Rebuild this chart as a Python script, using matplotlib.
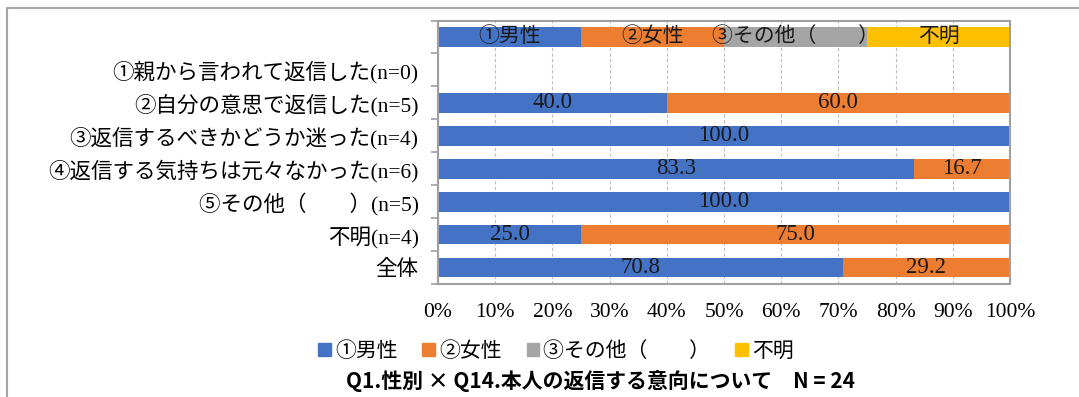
import matplotlib
matplotlib.use("Agg")
import matplotlib.pyplot as plt
from matplotlib.lines import Line2D
import numpy as np

plt.rcParams['font.family'] = ['Liberation Serif', 'Noto Sans CJK JP', 'DejaVu Sans']

categories = ["", "①親から言われて返信した(n=0)", "②自分の意思で返信した(n=5)",
              "③返信するべきかどうか迷った(n=4)", "④返信する気持ちは元々なかった(n=6)",
              "⑤その他（　　）(n=5)", "不明(n=4)", "全体"]
series_names = ["①男性", "②女性", "③その他（　　）", "不明"]
male = [25, 0, 40.0, 100.0, 83.3, 100.0, 25.0, 70.8]
female = [25, 0, 60.0, 0, 16.7, 0, 75.0, 29.2]
other = [25, 0, 0, 0, 0, 0, 0, 0]
unknown = [25, 0, 0, 0, 0, 0, 0, 0]
xticks = [0, 10, 20, 30, 40, 50, 60, 70, 80, 90, 100]
title = "Q1.性別 × Q14.本人の返信する意向について　N = 24"

colors = ["#4472C4", "#ED7D31", "#A5A5A5", "#FFC000"]

fig = plt.figure(figsize=(10.79, 3.97), dpi=100)
ax = fig.add_axes([438/1079, 1-284/397, (1010-438)/1079, (284-20.5)/397])

y = np.arange(len(categories))
left = np.zeros(len(categories))
data = [male, female, other, unknown]
for i, (vals, c, name) in enumerate(zip(data, colors, series_names)):
    vals = np.array(vals, dtype=float)
    ax.barh(y, vals, left=left, height=0.6, color=c, label=name, zorder=2)
    for j, (v, l) in enumerate(zip(vals, left)):
        if v <= 0:
            continue
        if j == 0:
            txt, fs = name, 15
        else:
            txt, fs = f"{v:.1f}", 16.5
        ax.text(l + v/2, y[j], txt, ha='center', va='center', fontsize=fs,
                color='#1a1a1a', zorder=3)
    left += vals

ax.set_xlim(0, 100)
ax.set_ylim(len(categories)-0.5, -0.5)
ax.set_xticks(xticks)
ax.set_xticklabels([f"{t}%" for t in xticks], fontsize=15.5)
ax.set_yticks(y)
ax.set_yticklabels(categories, fontsize=15.5)
ax.set_yticks(np.arange(-0.5, len(categories)), minor=True)
ax.tick_params(axis='y', which='major', length=0, pad=14)
ax.tick_params(axis='y', which='minor', length=5, color='#A0A0A0', width=1.2)
ax.tick_params(axis='x', length=0, pad=14)
ax.xaxis.grid(True, linestyle=(0, (3, 2)), color='#BFBFBF', linewidth=0.8, zorder=0)
ax.set_axisbelow(True)
for s in ax.spines.values():
    s.set_color('#A0A0A0')
    s.set_linewidth(1.5)

fig.legend(handles=[plt.Rectangle((0, 0), 1, 1, color=c) for c in colors],
           labels=series_names, loc='center', bbox_to_anchor=(556/1079, 1-352/397),
           ncol=4, frameon=False, fontsize=15, handlelength=0.6, handleheight=0.6,
           handletextpad=0.2, columnspacing=1.2)

fig.text(600/1079, 1-381/397, title, ha='center', va='center', fontsize=15,
         fontweight='bold', family=['Noto Sans CJK JP', 'DejaVu Sans'])

fig.add_artist(Line2D([7/1079, 7/1079, 1.0], [0, 1-8/397, 1-8/397],
                      transform=fig.transFigure, color='#A6A6A6', linewidth=1.5))

fig.savefig("out.png", dpi=100)
